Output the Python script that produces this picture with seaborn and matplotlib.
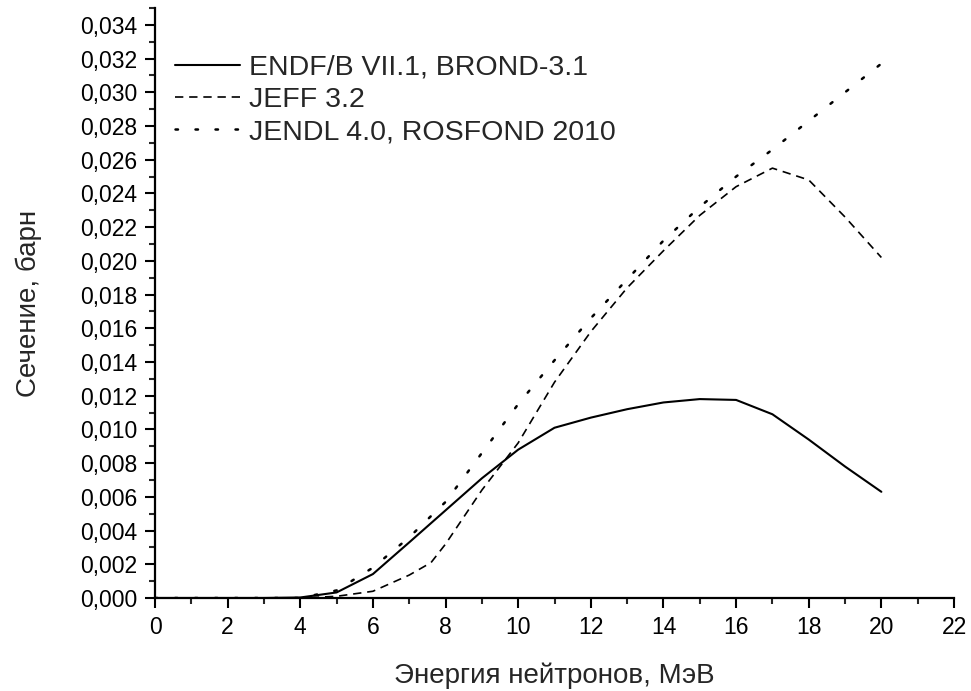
import matplotlib
matplotlib.use("Agg")
import matplotlib.pyplot as plt
import seaborn as sns
import pandas as pd
from matplotlib.ticker import MultipleLocator, FuncFormatter

# ---- data ----
energy_endf = [0, 1, 2, 3, 4, 5, 6, 7, 8, 9, 10, 11, 12, 13, 14, 15, 16, 17, 18, 19, 20]
xs_endf = [0.0, 0.0, 0.0, 0.0, 0.00003, 0.00033, 0.00142, 0.0033, 0.0052, 0.0071, 0.0088,
           0.0101, 0.0107, 0.0112, 0.0116, 0.0118, 0.01175, 0.0109, 0.0094, 0.0078, 0.0063]

energy_jeff = [0, 1, 2, 3, 4, 5, 6, 7, 7.6, 8, 9, 10, 11, 12, 13, 14, 15, 16, 17, 18, 19, 20]
xs_jeff = [0.0, 0.0, 0.0, 0.0, 0.0, 0.0001, 0.0004, 0.00136, 0.0021, 0.0032, 0.0064, 0.0092,
           0.0128, 0.0158, 0.0184, 0.0206, 0.0227, 0.0244, 0.0255, 0.0248, 0.0226, 0.0202]

energy_jendl = [0, 1, 2, 3, 4, 5, 6, 7, 8, 9, 10, 11, 12, 13, 14, 15, 16, 17, 18, 19, 20]
xs_jendl = [0.0, 0.0, 0.0, 0.0, 0.0, 0.00045, 0.0018, 0.0036, 0.0057, 0.0086, 0.0115,
            0.0141, 0.0166, 0.0189, 0.0212, 0.0232, 0.0250, 0.0266, 0.0283, 0.0300, 0.0317]

labels = ["ENDF/B VII.1, BROND-3.1", "JEFF 3.2", "JENDL 4.0, ROSFOND 2010"]
x_label = "Энергия нейтронов, МэВ"
y_label = "Сечение, барн"

sns.set_style("ticks")
plt.rcParams['font.family'] = ['Liberation Sans', 'DejaVu Sans']

fig = plt.figure(figsize=(9.71, 6.91), dpi=100)
ax = fig.add_axes([155/971, 1-598/691, (954-155)/971, (598-8)/691])

df1 = pd.DataFrame({"E": energy_endf, "S": xs_endf})
df2 = pd.DataFrame({"E": energy_jeff, "S": xs_jeff})
df3 = pd.DataFrame({"E": energy_jendl, "S": xs_jendl})

sns.lineplot(data=df1, x="E", y="S", ax=ax, color="black", lw=1.5, label=labels[0])
sns.lineplot(data=df2, x="E", y="S", ax=ax, color="black", lw=1.2,
             linestyle=(0, (5, 3.5)), label=labels[1])
sns.lineplot(data=df3, x="E", y="S", ax=ax, color="black", lw=1.8,
             linestyle=(0, (1, 7)), label=labels[2])
ax.lines[2].set_dash_capstyle("round")

ax.set_xlim(0, 22)
ax.set_ylim(0, 0.035)
ax.xaxis.set_major_locator(MultipleLocator(2))
ax.xaxis.set_minor_locator(MultipleLocator(1))
ax.yaxis.set_major_locator(MultipleLocator(0.002))
ax.yaxis.set_minor_locator(MultipleLocator(0.001))
ax.yaxis.set_major_formatter(FuncFormatter(lambda v, p: f"{v:.3f}".replace(".", ",") if v <= 0.0345 else ""))
ax.xaxis.set_major_formatter(FuncFormatter(lambda v, p: f"{v:.0f}"))

for s in ["top", "right"]:
    ax.spines[s].set_visible(False)
for s in ["left", "bottom"]:
    ax.spines[s].set_linewidth(1.6)
    ax.spines[s].set_color("black")

ax.tick_params(axis="both", which="major", length=7, width=1.5, labelsize=16.5,
               colors="black", direction="out", pad=6)
ax.tick_params(axis="both", which="minor", length=4, width=1.5, direction="out")

ax.set_xlabel(x_label, fontsize=20, labelpad=17)
ax.set_ylabel(y_label, fontsize=20, labelpad=27)

leg = ax.legend(loc="upper left", bbox_to_anchor=(0.0, 0.955), frameon=False,
                fontsize=20.5, handlelength=2.3, handletextpad=0.3, labelspacing=0.22,
                borderaxespad=0.3)

fig.savefig("out.png", dpi=100)
